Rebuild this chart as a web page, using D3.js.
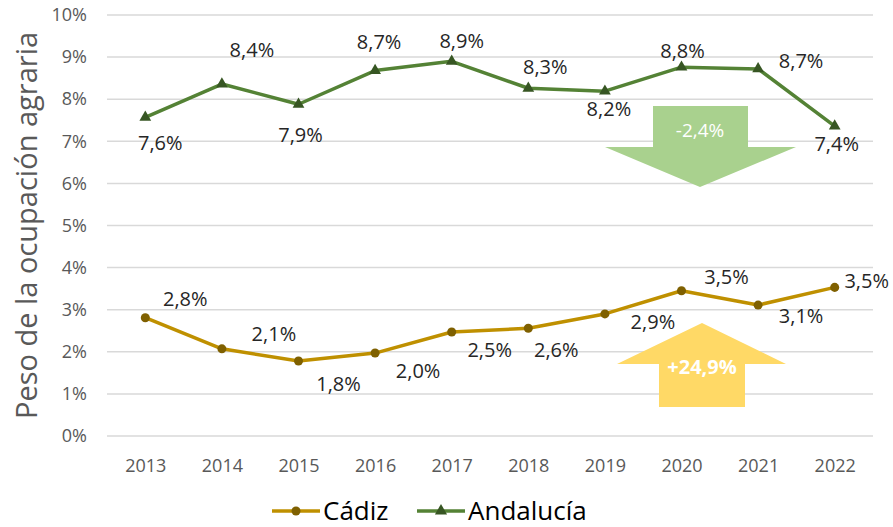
<!DOCTYPE html>
<meta charset="utf-8">
<style>
    body { margin: 0; background: #fff; }
    text { font-family: "Open Sans", "Liberation Sans", sans-serif; }
    .grid line { stroke: #d9d9d9; stroke-width: 1.5px; }
</style>
<title>Peso de la ocupación agraria</title>
<body>
<script src="https://cdn.jsdelivr.net/npm/d3@7"></script>
<script>
    // datos
    const years = ['2013','2014','2015','2016','2017','2018','2019','2020','2021','2022'];
    const cadiz = [2.81, 2.07, 1.78, 1.97, 2.47, 2.56, 2.9, 3.45, 3.11, 3.53];
    const andalucia = [7.57, 8.36, 7.88, 8.68, 8.9, 8.26, 8.19, 8.76, 8.72, 7.36];
    const cadizLabels = ['2,8%','2,1%','1,8%','2,0%','2,5%','2,6%','2,9%','3,5%','3,1%','3,5%'];
    const andaluciaLabels = ['7,6%','8,4%','7,9%','8,7%','8,9%','8,3%','8,2%','8,8%','8,7%','7,4%'];
    const yTicks = [0,1,2,3,4,5,6,7,8,9,10];

    // desplazamiento del centro de cada etiqueta respecto a su punto (estilo)
    const cadizOff = [[40,-19],[52,-15],[40,23],[43,18],[38,18],[28,22],[48,8],[45,-14],[43,11],[32,-7]];
    const andOff = [[15,25],[30,-34],[2,31],[4,-29],[10,-21],[17,-21],[4,18],[1,-16],[43,-8],[2,18]];

    const width = 893, height = 527;
    const margin = {left: 107, right: 20, top: 15, bottom: 91};

    const svg = d3.select('body').append('svg')
        .attr('width', width)
        .attr('height', height);

    const x = d3.scalePoint()
        .domain(years)
        .range([margin.left, width - margin.right])
        .padding(0.5);

    const y = d3.scaleLinear()
        .domain([0, 10])
        .range([height - margin.bottom, margin.top]);

    // rejilla
    svg.append('g')
        .attr('class', 'grid')
        .selectAll('line')
        .data(yTicks)
        .enter().append('line')
        .attr('x1', margin.left)
        .attr('x2', width - margin.right)
        .attr('y1', d => y(d))
        .attr('y2', d => y(d));

    // eje y
    const yAxis = svg.append('g')
        .attr('transform', `translate(${margin.left},0)`)
        .call(d3.axisLeft(y).tickValues(yTicks).tickFormat(d => d + '%').tickSize(0).tickPadding(20));
    yAxis.select('.domain').remove();
    yAxis.selectAll('text').attr('fill', '#595959').style('font-size', '18px');

    // eje x
    const xAxis = svg.append('g')
        .attr('transform', `translate(0,${height - margin.bottom})`)
        .call(d3.axisBottom(x).tickSize(0).tickPadding(23));
    xAxis.select('.domain').remove();
    xAxis.selectAll('text').attr('fill', '#595959').style('font-size', '18px');

    svg.append('text')
        .attr('transform', `translate(37,${(y(0) + y(10)) / 2}) rotate(-90)`)
        .attr('text-anchor', 'middle')
        .attr('fill', '#595959')
        .style('font-size', '29px')
        .text('Peso de la ocupación agraria');

    // flechas
    const arrowDown = [[653,106],[748,106],[748,147],[796,147],[700,187],[605,147],[653,147]];
    const arrowUp = [[702,323],[786,364],[745,364],[745,407],[659,407],[659,364],[617,364]];
    svg.append('polygon').attr('points', arrowDown.join(' ')).attr('fill', '#a9d18e');
    svg.append('polygon').attr('points', arrowUp.join(' ')).attr('fill', '#ffd966');
    svg.append('text').attr('x', 700).attr('y', 137).attr('text-anchor', 'middle')
        .attr('fill', '#fff').style('font-size', '19px').text('-2,4%');
    svg.append('text').attr('x', 702).attr('y', 374).attr('text-anchor', 'middle')
        .attr('fill', '#fff').style('font-size', '20px').style('font-weight', 'bold').text('+24,9%');

    const line = d3.line()
        .x((d, i) => x(years[i]))
        .y(d => y(d));

    function drawSeries(values, labels, offsets, lineColor, markerColor, marker) {
        svg.append('path')
            .datum(values)
            .attr('fill', 'none')
            .attr('stroke', lineColor)
            .attr('stroke-width', 3.5)
            .attr('stroke-linejoin', 'round')
            .attr('d', line);

        svg.append('g').selectAll('path')
            .data(values)
            .enter().append('path')
            .attr('transform', (d, i) => `translate(${x(years[i])},${y(d)})`)
            .attr('d', d3.symbol().type(marker).size(marker === d3.symbolCircle ? 64 : 60))
            .attr('fill', markerColor);

        svg.append('g').selectAll('text')
            .data(values)
            .enter().append('text')
            .attr('x', (d, i) => x(years[i]) + offsets[i][0])
            .attr('y', (d, i) => y(d) + offsets[i][1])
            .attr('dy', '0.36em')
            .attr('text-anchor', 'middle')
            .attr('fill', '#262626')
            .style('font-size', '20px')
            .text((d, i) => labels[i]);
    }

    drawSeries(andalucia, andaluciaLabels, andOff, '#548235', '#375623', d3.symbolTriangle);
    drawSeries(cadiz, cadizLabels, cadizOff, '#bf9000', '#7f6000', d3.symbolCircle);

    // leyenda
    const legend = [
        {name: 'Cádiz', color: '#bf9000', marker: '#7f6000', type: d3.symbolCircle, x: 272},
        {name: 'Andalucía', color: '#548235', marker: '#375623', type: d3.symbolTriangle, x: 417}
    ];
    const lg = svg.append('g').selectAll('g')
        .data(legend)
        .enter().append('g')
        .attr('transform', d => `translate(${d.x},511)`);
    lg.append('line').attr('x1', 0).attr('x2', 48)
        .attr('stroke', d => d.color).attr('stroke-width', 3.5);
    lg.append('path').attr('transform', 'translate(24,0)')
        .attr('d', d => d3.symbol().type(d.type).size(64)())
        .attr('fill', d => d.marker);
    lg.append('text').attr('x', 51).attr('y', 9)
        .attr('fill', '#000')
        .style('font-size', '26px')
        .text(d => d.name);
</script>
</body>
